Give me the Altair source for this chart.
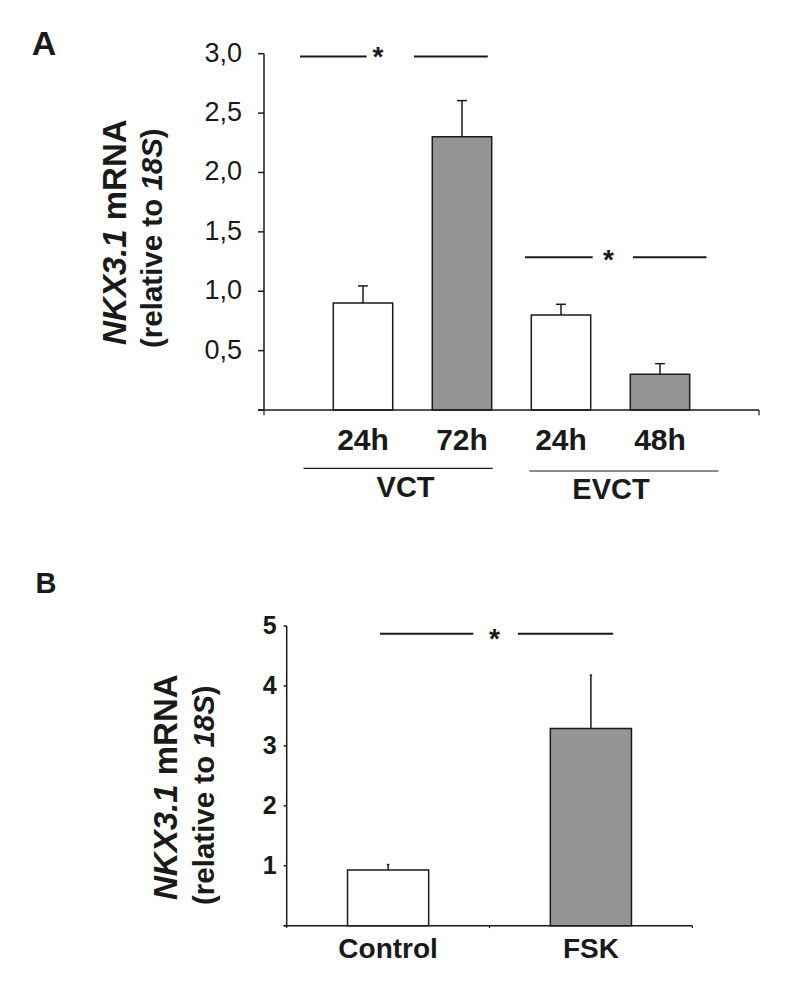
import altair as alt
import pandas as pd

# ---------------- data ----------------
A_labels = ["24h", "72h", "24h", "48h"]
A_pos = [1, 2, 3, 4]
A_values = [0.90, 2.30, 0.80, 0.30]
A_err = [0.145, 0.305, 0.09, 0.09]
A_kind = ["white", "grey", "white", "grey"]
A_ticks = [0.5, 1.0, 1.5, 2.0, 2.5, 3.0]
A_tick_labels = ["0,5", "1,0", "1,5", "2,0", "2,5", "3,0"]
A_groups = ["VCT", "EVCT"]

B_labels = ["Control", "FSK"]
B_pos = [1, 3]
B_values = [0.93, 3.29]
B_err = [0.09, 0.89]
B_kind = ["white", "grey"]
B_ticks = [1, 2, 3, 4, 5]
B_tick_labels = ["1", "2", "3", "4", "5"]

# ---------------- styling / layout ----------------
FONT = "Liberation Sans"
INK = "#1a1a1a"
GREY = "#959595"
W, H = 772, 975

xA = alt.Scale(domain=[0, 5], range=[256, 751], nice=False, zero=False)
yA = alt.Scale(domain=[0, 3], range=[402, 45.7], nice=False, zero=False)
xB = alt.Scale(domain=[0, 4], range=[278.7, 684.3], nice=False, zero=False)
yB = alt.Scale(domain=[0, 5], range=[917.7, 618], nice=False, zero=False)

fill_scale = alt.Scale(domain=["white", "grey"], range=["white", GREY])
one = pd.DataFrame({"_": [0]})


def X(f, s):
    return alt.X(f, type="quantitative", scale=s, axis=None)


def Y(f, s):
    return alt.Y(f, type="quantitative", scale=s, axis=None)


def txt(s, x, y, size, weight="bold", style="normal", angle=0, align="left"):
    return alt.Chart(one).mark_text(
        text=s, font=FONT, fontSize=size, fontWeight=weight, fontStyle=style,
        angle=angle, align=align, baseline="alphabetic", color=INK
    ).encode(x=alt.value(x), y=alt.value(y))


def panel(labels, pos, vals, errs, kinds, ticks, tlabels, xs, ys, xmax, ymax,
          halfw, caphw, ytick_len, xtick_pos, xtick_len, tick_dx, tick_size,
          tick_weight, lab_y, lab_size):
    df = pd.DataFrame({"pos": pos, "value": vals, "err": errs, "kind": kinds,
                       "label": labels})
    df["x1"] = df["pos"] - halfw
    df["x2"] = df["pos"] + halfw
    df["top"] = df["value"] + df["err"]
    df["c1"] = df["pos"] - caphw
    df["c2"] = df["pos"] + caphw
    df["zero"] = 0.0
    base = alt.Chart(df)
    bars = base.mark_rect(stroke=INK, strokeWidth=1.5).encode(
        x=X("x1", xs), x2="x2", y=Y("value", ys), y2="zero",
        fill=alt.Fill("kind:N", scale=fill_scale, legend=None))
    stems = base.mark_rule(color=INK, strokeWidth=1.5).encode(
        x=X("pos", xs), y=Y("value", ys), y2="top")
    caps = base.mark_rule(color=INK, strokeWidth=1.5).encode(
        x=X("c1", xs), x2="c2", y=Y("top", ys))
    cat = base.mark_text(font=FONT, fontSize=lab_size, fontWeight="bold",
                         color=INK, baseline="alphabetic").encode(
        x=X("pos", xs), y=alt.value(lab_y), text="label:N")

    ax = pd.DataFrame({"x0": [0.0], "y0": [0.0], "xm": [xmax], "ym": [ymax],
                       "xl": [-ytick_len]})
    yaxis = alt.Chart(ax).mark_rule(color=INK, strokeWidth=1.5).encode(
        x=X("x0", xs), y=Y("y0", ys), y2="ym")
    xaxis = alt.Chart(ax).mark_rule(color=INK, strokeWidth=1.5).encode(
        x=X("xl", xs), x2="xm", y=Y("y0", ys))

    tdf = pd.DataFrame({"t": [0.0] + list(ticks), "lab": [""] + list(tlabels)})
    tdf["x0"] = 0.0
    tdf["xl"] = -ytick_len
    yt = alt.Chart(tdf).mark_rule(color=INK, strokeWidth=1.5).encode(
        x=X("xl", xs), x2="x0", y=Y("t", ys))
    ytl = alt.Chart(tdf).mark_text(font=FONT, fontSize=tick_size,
                                   fontWeight=tick_weight, color=INK,
                                   align="right", baseline="middle",
                                   dx=tick_dx).encode(
        x=X("x0", xs), y=Y("t", ys), text="lab:N")

    xdf = pd.DataFrame({"p": xtick_pos})
    xdf["y0"] = 0.0
    xdf["yl"] = -xtick_len
    xt = alt.Chart(xdf).mark_rule(color=INK, strokeWidth=1.2).encode(
        x=X("p", xs), y=Y("y0", ys), y2="yl")
    return [bars, stems, caps, yaxis, xaxis, yt, ytl, xt, cat]


layers = []
layers += panel(A_labels, A_pos, A_values, A_err, A_kind, A_ticks,
                A_tick_labels, xA, yA, 5.0, 3.0, 0.30, 0.05, 0.06,
                [0.0, 5.0], 0.045, -22, 27, "normal", 442, 30)
layers += panel(B_labels, B_pos, B_values, B_err, B_kind, B_ticks,
                B_tick_labels, xB, yB, 4.0, 5.0, 0.40, 0.012, 0.03,
                [0.0, 2.0, 4.0], 0.04, -10, 25, "bold", 950, 28)

# group brackets under panel A
grp = pd.DataFrame({"g": A_groups, "s": [0.40, 2.68], "e": [2.31, 4.59],
                    "m": [1.43, 3.505]})
for i, (yl, yt) in enumerate([(460.3, 488.7), (463.0, 491.0)]):
    gi = alt.Chart(grp.iloc[[i]])
    layers.append(gi.mark_rule(color=INK, strokeWidth=1.2).encode(
        x=X("s", xA), x2="e", y=alt.value(yl)))
    layers.append(gi.mark_text(font=FONT, fontSize=29, fontWeight="bold",
                               color=INK, baseline="alphabetic").encode(
        x=X("m", xA), y=alt.value(yt), text="g:N"))

# significance markers
sigA = pd.DataFrame({"s": [0.364, 1.515, 2.636, 3.727],
                     "e": [1.037, 2.26, 3.32, 4.47],
                     "y": [2.977, 2.977, 1.287, 1.287]})
starA = pd.DataFrame({"x": [1.15, 3.48], "y": [2.897, 1.186]})
sigB = pd.DataFrame({"s": [0.92, 2.28], "e": [1.84, 3.22], "y": [4.87, 4.87]})
starB = pd.DataFrame({"x": [2.05], "y": [4.635]})
for sig, star, xs, ys in [(sigA, starA, xA, yA), (sigB, starB, xB, yB)]:
    layers.append(alt.Chart(sig).mark_rule(color=INK, strokeWidth=2).encode(
        x=X("s", xs), x2="e", y=Y("y", ys)))
    layers.append(alt.Chart(star).mark_text(
        text="*", font=FONT, fontSize=28, fontWeight="bold", color=INK,
        baseline="alphabetic").encode(x=X("x", xs), y=Y("y", ys)))

# y-axis titles (mixed italic / bold), rotated
def ytitle(x1, y1, x2, y2, s1, s2):
    out = []
    out.append(txt("NKX3.1", x1, y1, s1, style="italic", angle=270))
    out.append(txt("mRNA", x1, y1 - 3.779 * s1, s1, angle=270))
    out.append(txt("(relative to ", x2, y2, s2, angle=270))
    out.append(txt("18S", x2, y2 - 5.335 * s2, s2, style="italic", angle=270))
    out.append(txt(")", x2, y2 - 7.114 * s2, s2, angle=270))
    return out

layers += ytitle(118, 337, 153.5, 340, 33, 29.5)
layers += ytitle(169, 892, 206, 897, 33, 29.5)

# panel letters
layers.append(txt("A", 36, 47, 34, align="center"))
layers.append(txt("B", 38, 585, 29, align="center"))

chart = alt.layer(*layers).resolve_scale(
    x="independent", y="independent"
).properties(
    width=W, height=H, padding=0, autosize=alt.AutoSizeParams(type="none")
).configure_view(stroke=None)

chart.save("out.html", embed_options={"renderer": "svg", "actions": False})
